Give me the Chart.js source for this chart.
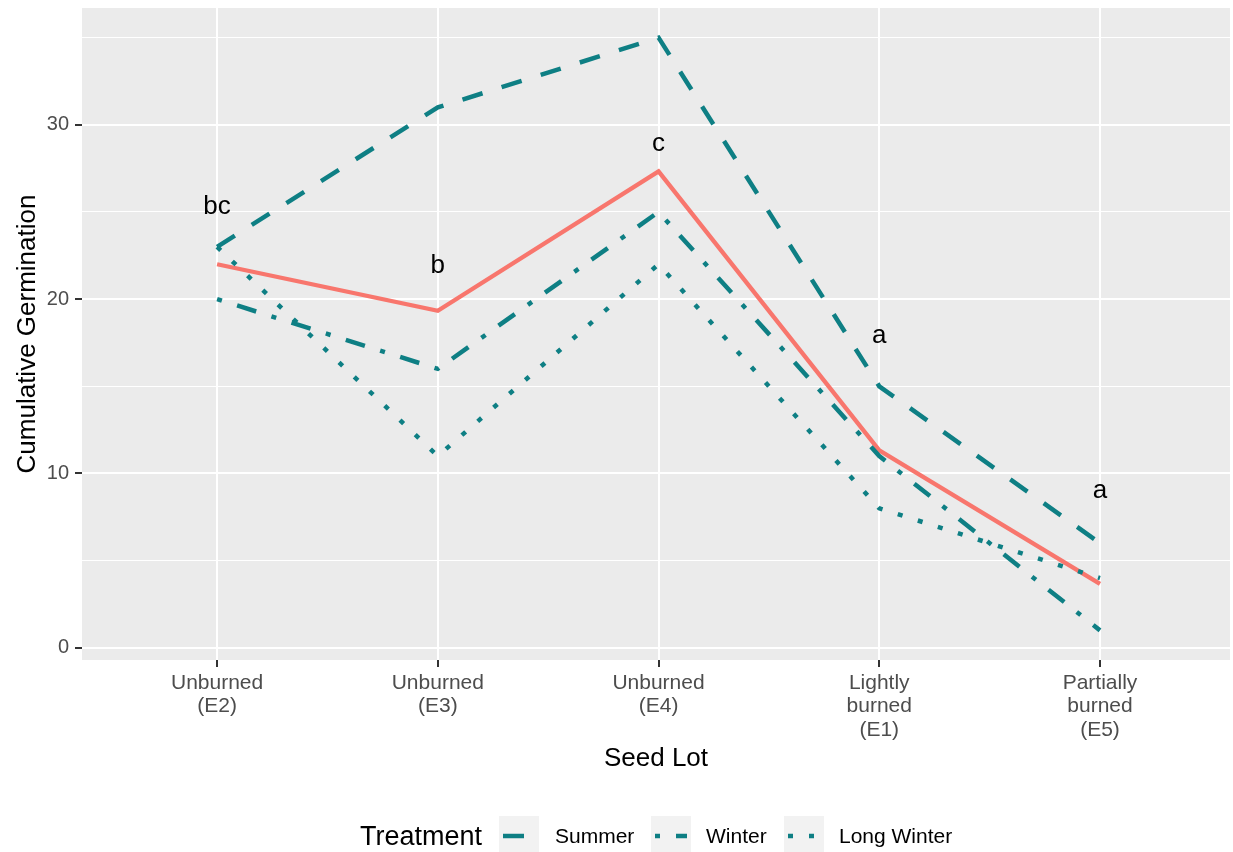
<!DOCTYPE html>
<html>
<head>
<meta charset="utf-8">
<script src="https://cdn.jsdelivr.net/npm/chart.js@4"></script>
<style>
  html, body { margin: 0; padding: 0; background: #ffffff; }
  #wrap { width: 1233px; height: 852px; position: relative; }
</style>
</head>
<body>
<div id="wrap"><canvas id="chart"></canvas></div>
<script>
// seed lots (x axis) and values
const seedLots = [['Unburned', '(E2)'], ['Unburned', '(E3)'], ['Unburned', '(E4)'],
                  ['Lightly', 'burned', '(E1)'], ['Partially', 'burned', '(E5)']];
const summer = [23, 31, 35, 15, 6];
const winter = [20, 16, 25, 11, 1];
const longWinter = [23, 11, 22, 8, 4];
const meanLine = [22, 19.33, 27.33, 11.33, 3.67];
const letters = ['bc', 'b', 'c', 'a', 'a'];
const letterY = [25.3, 21.9, 28.9, 17.9, 9.0];
const yTicks = [0, 5, 10, 15, 20, 25, 30, 35];

const TEAL = '#0E7F84';
const RED = '#F8766D';
const FONT = '"Liberation Sans", Arial, sans-serif';

// dash patterns (ggplot dashed / dotdash / dotted)
const dashes = {
  Summer: [21, 20],
  Winter: [5, 16, 20, 16],
  'Long Winter': [5, 16]
};

function pts(arr) {
  return arr.map((v, i) => ({ x: i, y: v }));
}

// grey panel behind the plot
const panelBg = {
  id: 'panelBg',
  beforeDraw(chart) {
    const { ctx, chartArea: a } = chart;
    ctx.save();
    ctx.fillStyle = '#EBEBEB';
    ctx.fillRect(a.left, a.top, a.right - a.left, a.bottom - a.top);
    ctx.restore();
  }
};

// letter labels and the legend at the bottom
const extras = {
  id: 'extras',
  afterDatasetsDraw(chart) {
    const { ctx, scales } = chart;
    ctx.save();
    ctx.fillStyle = '#000000';
    ctx.font = '26px ' + FONT;
    ctx.textAlign = 'center';
    ctx.textBaseline = 'middle';
    letters.forEach((t, i) => {
      ctx.fillText(t, scales.x.getPixelForValue(i), scales.y.getPixelForValue(letterY[i]));
    });
    ctx.restore();
  },
  afterDraw(chart) {
    const { ctx } = chart;
    const cy = 836;
    ctx.save();
    ctx.textBaseline = 'middle';
    ctx.textAlign = 'left';
    ctx.fillStyle = '#000000';
    ctx.font = '27px ' + FONT;
    ctx.fillText('Treatment', 360, cy + 2);

    const keys = [
      { name: 'Summer', box: 499, text: 555 },
      { name: 'Winter', box: 651, text: 706 },
      { name: 'Long Winter', box: 784, text: 839 }
    ];
    keys.forEach(k => {
      ctx.fillStyle = '#F2F2F2';
      ctx.fillRect(k.box, cy - 20, 40, 40);
      ctx.save();
      ctx.beginPath();
      ctx.rect(k.box, cy - 20, 40, 40);
      ctx.clip();
      ctx.strokeStyle = TEAL;
      ctx.lineWidth = 4.5;
      ctx.lineCap = 'butt';
      ctx.setLineDash(dashes[k.name]);
      ctx.beginPath();
      ctx.moveTo(k.box + 4, cy);
      ctx.lineTo(k.box + 36, cy);
      ctx.stroke();
      ctx.restore();
      ctx.fillStyle = '#000000';
      ctx.font = '21px ' + FONT;
      ctx.fillText(k.name, k.text, cy + 1);
    });
    ctx.restore();
  }
};

function teal(label, data) {
  return {
    label: label,
    data: pts(data),
    borderColor: TEAL,
    borderWidth: 4.5,
    borderDash: dashes[label],
    borderCapStyle: 'butt',
    pointRadius: 0,
    tension: 0,
    fill: false
  };
}

const ctx = document.getElementById('chart').getContext('2d');
const chart = new Chart(ctx, {
  type: 'line',
  data: {
    datasets: [
      teal('Summer', summer),
      teal('Winter', winter),
      teal('Long Winter', longWinter),
      {
        label: 'Mean',
        data: pts(meanLine),
        borderColor: RED,
        borderWidth: 4.3,
        pointRadius: 0,
        tension: 0,
        fill: false
      }
    ]
  },
  options: {
    responsive: true,
    maintainAspectRatio: false,
    animation: false,
    layout: { padding: { left: 0, right: 3, top: 8, bottom: 77.4 } },
    plugins: {
      legend: { display: false },
      tooltip: { enabled: false }
    },
    scales: {
      x: {
        type: 'linear',
        min: -0.612,
        max: 4.589,
        afterBuildTicks: s => { s.ticks = seedLots.map((_, i) => ({ value: i })); },
        afterFit: s => { s.height = 114.6; s.paddingLeft = 0; s.paddingRight = 0; },
        grid: { color: '#FFFFFF', lineWidth: 2, tickColor: '#333333', tickLength: 7 },
        border: { display: false },
        ticks: {
          callback: v => seedLots[v],
          color: '#4D4D4D',
          font: { family: FONT, size: 21, lineHeight: 1.1 },
          padding: 5,
          maxRotation: 0
        },
        title: {
          display: true,
          text: 'Seed Lot',
          color: '#000000',
          font: { family: FONT, size: 26 },
          padding: 0
        }
      },
      y: {
        min: -0.7,
        max: 36.7,
        afterBuildTicks: s => { s.ticks = yTicks.map(v => ({ value: v })); },
        afterFit: s => { s.width = 82; s.paddingTop = 0; s.paddingBottom = 0; },
        grid: {
          color: '#FFFFFF',
          lineWidth: c => (c.tick && c.tick.value % 10 === 0 ? 2 : 1),
          tickColor: c => (c.tick && c.tick.value % 10 === 0 ? '#333333' : 'rgba(0,0,0,0)'),
          tickLength: 7
        },
        border: { display: false },
        ticks: {
          callback: v => (v % 10 === 0 ? String(v) : ''),
          color: '#4D4D4D',
          font: { family: FONT, size: 20 },
          padding: 6
        },
        title: {
          display: true,
          text: 'Cumulative Germination',
          color: '#000000',
          font: { family: FONT, size: 26 },
          padding: { top: 12, bottom: 0 }
        }
      }
    }
  },
  plugins: [panelBg, extras]
});
</script>
</body>
</html>
